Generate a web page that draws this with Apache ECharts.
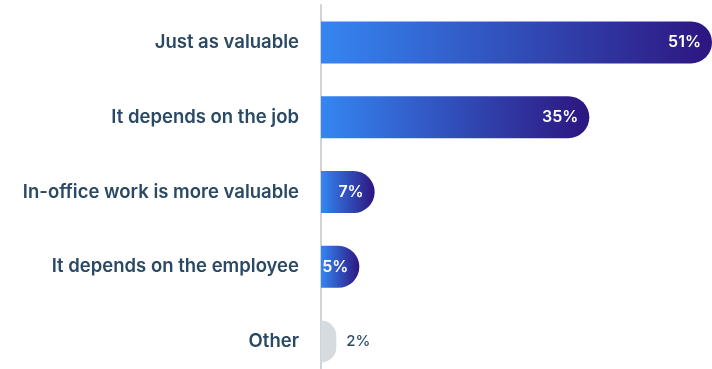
<!DOCTYPE html>
<html>
<head>
<meta charset="utf-8">
<script src="https://cdn.jsdelivr.net/npm/echarts@6/dist/echarts.min.js"></script>
<style>
  html, body { margin: 0; padding: 0; background: #ffffff; }
  #chart { width: 712px; height: 369px; }
</style>
</head>
<body>
<div id="chart"></div>
<script>
// Survey answers, listed top to bottom
const categories = [
  'Just as valuable',
  'It depends on the job',
  'In-office work is more valuable',
  'It depends on the employee',
  'Other'
];
const values = [51, 35, 7, 5, 2];
const highlighted = [true, true, true, true, false];

const chart = echarts.init(document.getElementById('chart'), null, { renderer: 'canvas' });

const blueGradient = new echarts.graphic.LinearGradient(0, 0, 1, 0, [
  { offset: 0, color: '#3586f2' },
  { offset: 1, color: '#2d1580' }
]);

const seriesData = values.map((v, i) => {
  if (highlighted[i]) {
    return {
      value: v,
      itemStyle: { color: blueGradient },
      label: {
        show: true,
        position: 'insideRight',
        distance: 11,
        color: '#ffffff',
        fontWeight: 600,
        fontSize: 16
      }
    };
  }
  return {
    value: v,
    itemStyle: { color: '#d6dbe0' },
    label: {
      show: true,
      position: 'right',
      distance: 10,
      color: '#2d4a63',
      fontWeight: 500,
      fontSize: 15
    }
  };
});

chart.setOption({
  animation: false,
  textStyle: { fontFamily: 'Inter, "Noto Sans", sans-serif' },
  grid: {
    left: 321, right: 0, top: 5, height: 374,
    containLabel: false,
    outerBoundsMode: 'none'
  },
  xAxis: {
    type: 'value',
    min: 0,
    max: 51,
    show: false
  },
  yAxis: {
    type: 'category',
    data: categories,
    inverse: true,
    axisLine: { show: true, lineStyle: { color: '#cfd4d9', width: 2 } },
    axisTick: { show: false },
    axisLabel: {
      margin: 22,
      color: '#2a4964',
      fontSize: 18.5,
      fontWeight: 600,
      fontFamily: 'Inter, "Noto Sans", sans-serif'
    }
  },
  series: [{
    type: 'bar',
    data: seriesData,
    barWidth: 42,
    itemStyle: { borderRadius: [0, 21, 21, 0] },
    label: { formatter: '{c}%' }
  }]
});
</script>
</body>
</html>
